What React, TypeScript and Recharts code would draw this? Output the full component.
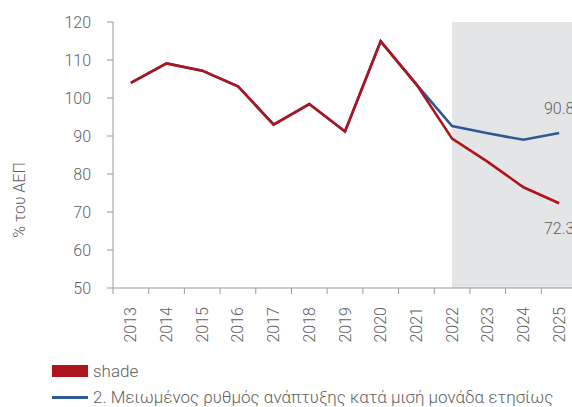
import React from 'react';
import { ComposedChart, Line, XAxis, YAxis, ReferenceArea, LabelList, Legend } from 'recharts';

const years = ['2013', '2014', '2015', '2016', '2017', '2018', '2019', '2020', '2021', '2022', '2023', '2024', '2025'];
const shadeSeries = [104, 109.1, 107.2, 103.1, 93, 98.4, 91.2, 114.9, 103.6, 89.3, 83.2, 76.5, 72.3];
const scenario2 = [104, 109.1, 107.2, 103.1, 93, 98.4, 91.2, 114.9, 103.6, 92.6, 90.7, 89, 90.8];
const yTicks = [50, 60, 70, 80, 90, 100, 110, 120];
const seriesNames = ['shade', '2. Μειωμένος ρυθμός ανάπτυξης κατά μισή μονάδα ετησίως'];
const shadeFrom = 2022;
const yLabel = '% του ΑΕΠ';

const data = years.map((y, i) => ({ year: y, yearNum: Number(y), s1: shadeSeries[i], s2: scenario2[i] }));

const RED = '#ae141d';
const BLUE = '#2e5a93';
const GREY_TEXT = '#5f5f5f';
const AXIS = '#9a9a9a';
const SHADE = '#e4e5e7';
const FONT = 'Roboto, "Noto Sans", sans-serif';
const WEIGHT = 300;

const XTick = (props: any) => {
  const { x, y, payload } = props;
  const off = payload && payload.offset ? payload.offset : 0;
  return (
    <g>
      <line x1={x - off} x2={x - off} y1={y - 19} y2={y - 13} stroke={AXIS} strokeWidth={1} />
      <text
        x={x}
        y={y}
        transform={`rotate(-90 ${x} ${y})`}
        textAnchor="end"
        dominantBaseline="central"
        fontSize={16}
        fontWeight={WEIGHT}
        fill={GREY_TEXT}
        fontFamily={FONT}
      >
        {payload.value}
      </text>
    </g>
  );
};

const lastIndex = years.length - 1;

const makeEndLabel = (above: boolean) => (props: any) => {
  const { x, y, value, index } = props;
  if (index !== lastIndex) return null;
  return (
    <text
      x={x}
      y={above ? y - 19 : y + 31}
      textAnchor="middle"
      fontSize={16}
      fontWeight={WEIGHT}
      fill={GREY_TEXT}
      fontFamily={FONT}
    >
      {value}
    </text>
  );
};

const LegendContent = () => (
  <div style={{ fontFamily: FONT, fontSize: 17, fontWeight: WEIGHT, color: GREY_TEXT }}>
    <div style={{ display: 'flex', alignItems: 'center', height: 26 }}>
      <span style={{ display: 'inline-block', width: 36, height: 12, background: RED, marginRight: 5 }} />
      <span>{seriesNames[0]}</span>
    </div>
    <div style={{ display: 'flex', alignItems: 'center', height: 26 }}>
      <span style={{ display: 'inline-block', width: 36, height: 3, background: BLUE, marginRight: 5 }} />
      <span style={{ whiteSpace: 'nowrap' }}>{seriesNames[1]}</span>
    </div>
  </div>
);

const YLabel = (props: any) => {
  const vb = props.viewBox || {};
  const cx = 19.5;
  const cy = (vb.y || 0) + (vb.height || 0) / 2 + 45;
  return (
    <text
      x={cx}
      y={cy}
      transform={`rotate(-90 ${cx} ${cy})`}
      textAnchor="middle"
      dominantBaseline="central"
      fontSize={16}
      fontWeight={WEIGHT}
      fill={GREY_TEXT}
      fontFamily={FONT}
    >
      {yLabel}
    </text>
  );
};

export default function App() {
  return (
    <div style={{ position: 'absolute', left: 0, top: 0, width: 572, height: 407, overflow: 'hidden', background: '#fff' }}>
      <ComposedChart
        width={590}
        height={407}
        data={data}
        margin={{ top: 22, right: 13, left: 0, bottom: 59 }}
      >
        <XAxis
          dataKey="year"
          type="category"
          scale="band"
          height={60}
          tickLine={false}
          tickSize={6}
          tickMargin={13}
          axisLine={{ stroke: AXIS }}
          tick={<XTick />}
          interval={0}
        />
        <XAxis
          xAxisId="num"
          dataKey="yearNum"
          type="number"
          domain={[Number(years[0]) - 0.5, Number(years[lastIndex]) + 0.5]}
          hide
        />
        <YAxis
          width={113}
          domain={[yTicks[0], yTicks[yTicks.length - 1]]}
          ticks={yTicks}
          interval={0}
          tickSize={6}
          tickMargin={16}
          tickLine={{ stroke: AXIS }}
          axisLine={{ stroke: AXIS }}
          tick={{ fontSize: 16, fill: GREY_TEXT, fontFamily: FONT, fontWeight: WEIGHT }}
          label={<YLabel />}
        />
        <ReferenceArea
          xAxisId="num"
          x1={shadeFrom}
          x2={Number(years[lastIndex]) + 0.5}
          y1={yTicks[0]}
          y2={yTicks[yTicks.length - 1]}
          fill={SHADE}
          fillOpacity={1}
          stroke="none"
        />
        <Legend verticalAlign="middle" layout="horizontal" content={<LegendContent />} wrapperStyle={{ position: 'absolute', left: 52, top: 358, width: 520 }} />
        <Line
          dataKey="s2"
          name={seriesNames[1]}
          stroke={BLUE}
          strokeWidth={2.6}
          dot={false}
          isAnimationActive={false}
        >
          <LabelList dataKey="s2" content={makeEndLabel(true)} />
        </Line>
        <Line
          dataKey="s1"
          name={seriesNames[0]}
          stroke={RED}
          strokeWidth={2.6}
          dot={false}
          isAnimationActive={false}
        >
          <LabelList dataKey="s1" content={makeEndLabel(false)} />
        </Line>
      </ComposedChart>
    </div>
  );
}
